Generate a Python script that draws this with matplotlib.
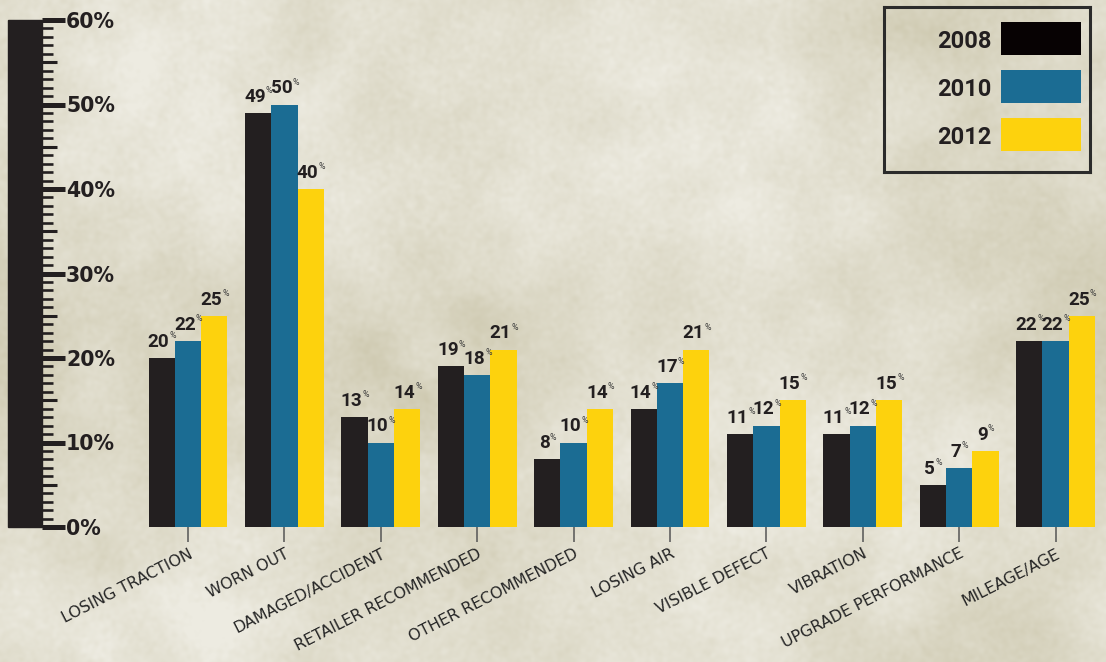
import numpy as np
import matplotlib
matplotlib.use("Agg")
import matplotlib.pyplot as plt
import matplotlib.transforms as mtransforms
from matplotlib.patches import Rectangle
from matplotlib.ticker import FixedLocator, MultipleLocator, FuncFormatter

# ---- data ---------------------------------------------------------------
categories = ["LOSING TRACTION", "WORN OUT", "DAMAGED/ACCIDENT",
              "RETAILER RECOMMENDED", "OTHER RECOMMENDED", "LOSING AIR",
              "VISIBLE DEFECT", "VIBRATION", "UPGRADE PERFORMANCE",
              "MILEAGE/AGE"]
years = ["2008", "2010", "2012"]
values_2008 = [20, 49, 13, 19, 8, 14, 11, 11, 5, 22]
values_2010 = [22, 50, 10, 18, 10, 17, 12, 12, 7, 22]
values_2012 = [25, 40, 14, 21, 14, 21, 15, 15, 9, 25]
y_ticks = [0, 10, 20, 30, 40, 50, 60]

series = [values_2008, values_2010, values_2012]
bar_colors = ["#231f20", "#1b6c93", "#fdd20d"]
legend_colors = ["#070203", "#1b6c93", "#fdd20d"]
ink = "#231f20"

W, H = 1106, 662
fig = plt.figure(figsize=(W / 100, H / 100), dpi=100)

# ---- mottled paper background -------------------------------------------
def smooth_field(rng, shape, sigma):
    noise = rng.standard_normal(shape)
    fy = np.fft.fftfreq(shape[0])[:, None]
    fx = np.fft.fftfreq(shape[1])[None, :]
    kernel = np.exp(-2 * (np.pi * sigma) ** 2 * (fx ** 2 + fy ** 2))
    f = np.real(np.fft.ifft2(np.fft.fft2(noise) * kernel))
    return (f - f.mean()) / f.std()

rng = np.random.default_rng(11)
tex = (0.6 * smooth_field(rng, (H, W), 70)
       + 0.3 * smooth_field(rng, (H, W), 18)
       + 0.15 * smooth_field(rng, (H, W), 2))
w = np.clip(0.30 + 0.2 * tex, 0, 1)[..., None]
light = np.array([237, 235, 225]) / 255
dark = np.array([196, 190, 160]) / 255
paper = light + (dark - light) * w

bg = fig.add_axes([0, 0, 1, 1], zorder=0)
bg.imshow(paper, aspect="auto", interpolation="bilinear")
bg.axis("off")

# ---- main axes ----------------------------------------------------------
y0_px, y60_px = 527, 20
first_px, step_px, bar_px = 188, 96.4, 26.3
ax = fig.add_axes([0, (H - y0_px) / H, 1, (y0_px - y60_px) / H], zorder=1)
ax.set_facecolor("none")
ax.set_ylim(0, 60)
ax.set_xlim(-first_px / step_px, (W - first_px) / step_px)

x = np.arange(len(categories))
bw = bar_px / step_px

for i, (vals, col) in enumerate(zip(series, bar_colors)):
    xs = x + (i - 1) * bw
    ax.bar(xs, vals, width=bw, color=col, zorder=3, linewidth=0)
    for xi, v in zip(xs, vals):
        num = ax.annotate(f"{v}", (xi, v), xytext=(-2.2, 8),
                          textcoords="offset points", ha="center",
                          va="baseline", fontfamily="Roboto", fontweight="bold",
                          fontsize=13.6, color=ink, zorder=4)
        ax.annotate("%", xy=(1, 1), xycoords=num, xytext=(0.1, 1.2),
                    textcoords="offset points", ha="left", va="top",
                    fontfamily="Roboto", fontsize=6.3, color="#3a3a3a",
                    zorder=4)

# ---- ruler-style y axis -------------------------------------------------
rx0, rx1 = 8 / W, 42 / W
blend = mtransforms.blended_transform_factory(ax.transAxes, ax.transData)
ax.add_patch(Rectangle((rx0, 0), rx1 - rx0, 60, transform=blend,
                       color=ink, zorder=2, clip_on=False))

for s in ["left", "top", "bottom"]:
    ax.spines[s].set_visible(False)
ax.spines["right"].set_position(("axes", rx1))
ax.spines["right"].set_visible(False)
ax.yaxis.tick_right()
ax.yaxis.set_major_locator(FixedLocator(y_ticks))
ax.yaxis.set_minor_locator(MultipleLocator(1))
ax.yaxis.set_major_formatter(FuncFormatter(lambda v, p: f"{v:.0f}%"))
ax.tick_params(axis="y", which="major", direction="out", length=16.6,
               width=3.6, color=ink, pad=0.8, labelsize=14.8, labelcolor=ink)
ax.tick_params(axis="y", which="minor", direction="out", length=8,
               width=1.9, color=ink)
for lbl in ax.get_yticklabels():
    lbl.set_fontweight("bold")
    lbl.set_fontfamily("DejaVu Sans")

# half-way marks between the decades
for v in np.arange(5, 60, 10):
    ax.plot([rx1, rx1 + 15 / W], [v, v], transform=blend, color=ink,
            lw=2.2, solid_capstyle="butt", clip_on=False, zorder=2)

# ---- category axis ------------------------------------------------------
ax.set_xticks(x)
ax.set_xticklabels(categories, rotation=27, ha="right", rotation_mode="anchor",
                   fontsize=11.4, color="#262626", fontfamily="DejaVu Sans")
ax.tick_params(axis="x", length=10.8, width=1.1, color="#555555", pad=3)

# ---- legend box ---------------------------------------------------------
lx, ly, lw_, lh = 884, 7, 206, 165
leg = fig.add_axes([lx / W, (H - ly - lh) / H, lw_ / W, lh / H], zorder=2)
leg.set_xlim(0, lw_)
leg.set_ylim(lh, 0)
leg.set_facecolor("none")
leg.set_xticks([])
leg.set_yticks([])
for s in leg.spines.values():
    s.set_linewidth(2.2)
    s.set_color("#2b2b2b")
for i, (yr, col) in enumerate(zip(years, legend_colors)):
    top = 15 + i * 48
    leg.add_patch(Rectangle((117, top), 80, 33, color=col, linewidth=0))
    leg.text(108, top + 16.5, yr, ha="right", va="center_baseline",
             fontfamily="Roboto", fontweight="bold", fontsize=17, color=ink)

fig.savefig("out.png", dpi=100)
